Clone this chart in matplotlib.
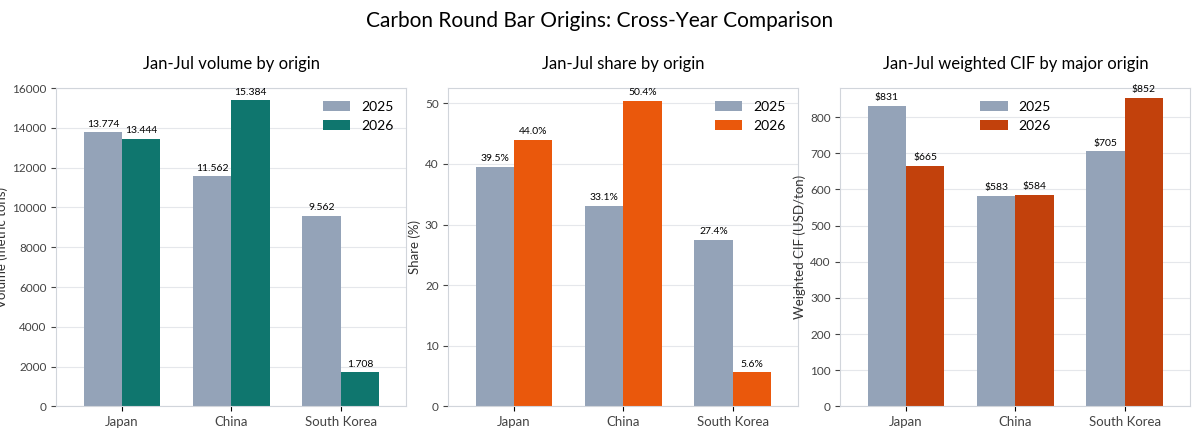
import matplotlib
matplotlib.use("Agg")
import matplotlib.pyplot as plt
import numpy as np

origins = ["Japan", "China", "South Korea"]
vol_2025 = [13774, 11562, 9562]
vol_2026 = [13444, 15384, 1708]
share_2025 = [39.5, 33.1, 27.4]
share_2026 = [44.0, 50.4, 5.6]
cif_2025 = [831, 583, 705]
cif_2026 = [665, 584, 852]

plt.rcParams['font.family'] = ['Lato', 'DejaVu Sans']
fig, axes = plt.subplots(1, 3, figsize=(12, 4.3), dpi=100)
fig.subplots_adjust(left=0.047, right=0.992, top=0.795, bottom=0.055, wspace=0.12)
fig.suptitle("Carbon Round Bar Origins: Cross-Year Comparison", fontsize=15, y=0.975)

gray = "#94a3b8"
panels = [
    (vol_2025, vol_2026, "#0f766e", "Jan-Jul volume by origin", "Volume (metric tons)",
     lambda v: f"{v/1000:.3f}", 16000, np.arange(0, 16001, 2000), "upper right"),
    (share_2025, share_2026, "#ea580c", "Jan-Jul share by origin", "Share (%)",
     lambda v: f"{v:.1f}%", 52.5, np.arange(0, 51, 10), "upper right"),
    (cif_2025, cif_2026, "#c2410c", "Jan-Jul weighted CIF by major origin", "Weighted CIF (USD/ton)",
     lambda v: f"${v:.0f}", 880, np.arange(0, 801, 100), "upper center"),
]
x = np.arange(len(origins))
w = 0.35
for ax, (a, b, c, title, ylabel, fmt, ymax, ticks, loc) in zip(axes, panels):
    b1 = ax.bar(x - w/2, a, w, color=gray, label="2025", zorder=2)
    b2 = ax.bar(x + w/2, b, w, color=c, label="2026", zorder=2)
    off = ymax * 0.012
    for bars, vals in ((b1, a), (b2, b)):
        for r, v in zip(bars, vals):
            ax.text(r.get_x() + r.get_width()/2, v + off, fmt(v), ha="center", va="bottom", fontsize=7.5)
    ax.set_title(title, fontsize=12, pad=14)
    ax.set_ylabel(ylabel, fontsize=9.5, color="#333333", labelpad=3)
    ax.set_xticks(x)
    ax.set_xticklabels(origins, fontsize=9.5, color="#444444")
    ax.set_yticks(ticks)
    ax.tick_params(axis="y", labelsize=8.5, colors="#444444")
    ax.set_ylim(0, ymax)
    ax.set_xlim(-0.6, 2.6)
    ax.grid(axis="y", color="#e5e7eb", linewidth=0.8, zorder=0)
    for s in ax.spines.values():
        s.set_color("#d1d5db")
    ax.legend(loc=loc, frameon=False, fontsize=10)

fig.savefig("out.png")
